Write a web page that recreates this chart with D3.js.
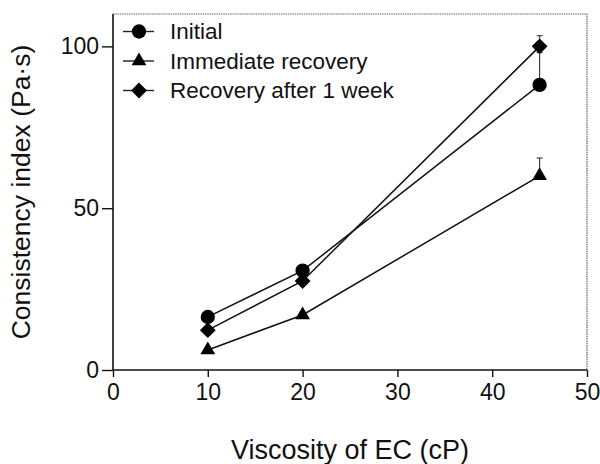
<!DOCTYPE html>
<html>
<head>
<meta charset="utf-8">
<script src="https://cdn.jsdelivr.net/npm/d3@7"></script>
<style>
  body { margin: 0; background: #fff; }
  text { font-family: "Liberation Sans", Arial, sans-serif; fill: #111; }
</style>
</head>
<body>
<div id="chart"></div>
<script>
// data
var viscosity = [10, 20, 45];
var seriesNames = ["Initial", "Immediate recovery", "Recovery after 1 week"];
var initial = [16.4, 30.7, 88.1];
var initialErr = [0, 0, 10];
var immediate = [6.2, 17.0, 60.0];
var immediateErr = [0, 0, 5.5];
var week = [12.3, 27.5, 100.0];
var weekErr = [0, 0, 3.3];
var xTicks = [0, 10, 20, 30, 40, 50];
var yTicks = [0, 50, 100];

var series = [
  {name: seriesNames[0], values: initial, err: initialErr, shape: "circle"},
  {name: seriesNames[1], values: immediate, err: immediateErr, shape: "triangle"},
  {name: seriesNames[2], values: week, err: weekErr, shape: "diamond"}
];

var W = 600, H = 464;
var margin = {top: 14, right: 13, bottom: 94, left: 113};
var width = W - margin.left - margin.right;
var height = H - margin.top - margin.bottom;

var svg = d3.select("#chart").append("svg")
    .attr("width", W)
    .attr("height", H);
var g = svg.append("g")
    .attr("transform", "translate(" + margin.left + "," + margin.top + ")");

var x = d3.scaleLinear().domain([0, 50]).range([0, width]);
var y = d3.scaleLinear().domain([0, 110]).range([height, 0]);

// frame on top and right
g.append("path")
    .attr("d", "M0,0H" + width + "V" + height)
    .attr("fill", "none")
    .attr("stroke", "#666")
    .attr("stroke-width", 1.2)
    .attr("stroke-dasharray", "1.5,0.8");

var xAxis = g.append("g")
    .attr("transform", "translate(0," + height + ")")
    .call(d3.axisBottom(x).tickValues(xTicks).tickSize(7).tickPadding(7).tickSizeOuter(0));
var yAxis = g.append("g")
    .call(d3.axisLeft(y).tickValues(yTicks).tickSize(11).tickPadding(3).tickSizeOuter(0));

[xAxis, yAxis].forEach(function(a) {
  a.select(".domain").attr("stroke", "#111").attr("stroke-width", 1.6);
  a.selectAll(".tick line").attr("stroke", "#111").attr("stroke-width", 1.4);
  a.selectAll(".tick text")
    .style("font-family", "'Liberation Sans', Arial, sans-serif")
    .style("font-size", "23px")
    .attr("fill", "#111");
});
xAxis.select(".domain").attr("d", "M0,0H" + width);
yAxis.select(".domain").attr("d", "M0," + height + "V0");

// axis titles
svg.append("text")
    .attr("x", margin.left + width / 2)
    .attr("y", 459)
    .attr("text-anchor", "middle")
    .style("font-size", "27px")
    .text("Viscosity of EC (cP)");
svg.append("text")
    .attr("transform", "translate(30," + (margin.top + height / 2) + ") rotate(-90)")
    .attr("text-anchor", "middle")
    .style("font-size", "26.5px")
    .text("Consistency index (Pa\u00b7s)");

function symbolPath(shape) {
  if (shape == "circle") return d3.symbol(d3.symbolCircle, 160)();
  if (shape == "triangle") return d3.symbol(d3.symbolTriangle, 95)();
  return d3.symbol(d3.symbolSquare, 125)();
}
function symbolRot(shape) { return shape == "diamond" ? " rotate(45)" : ""; }

var line = d3.line()
    .x(function(d, i) { return x(viscosity[i]); })
    .y(function(d) { return y(d); });

// error bars (upper only)
series.forEach(function(s) {
  s.err.forEach(function(e, i) {
    if (!e) return;
    var cx = x(viscosity[i]), top = y(s.values[i] + e);
    g.append("line")
      .attr("x1", cx).attr("x2", cx)
      .attr("y1", y(s.values[i])).attr("y2", top)
      .attr("stroke", "#444").attr("stroke-width", 1.2);
    g.append("line")
      .attr("x1", cx - 3).attr("x2", cx + 3)
      .attr("y1", top).attr("y2", top)
      .attr("stroke", "#444").attr("stroke-width", 1.2);
  });
});

series.forEach(function(s) {
  g.append("path")
    .datum(s.values)
    .attr("fill", "none")
    .attr("stroke", "#111")
    .attr("stroke-width", 1.5)
    .attr("d", line);
  g.selectAll(null)
    .data(s.values)
    .enter().append("path")
      .attr("transform", function(d, i) {
        return "translate(" + x(viscosity[i]) + "," + y(d) + ")" + symbolRot(s.shape);
      })
      .attr("d", symbolPath(s.shape))
      .attr("fill", "#000");
});

// legend
var legend = svg.append("g");
series.forEach(function(s, i) {
  var cy = 31.5 + i * 29.5;
  legend.append("line")
    .attr("x1", 123).attr("x2", 154)
    .attr("y1", cy).attr("y2", cy)
    .attr("stroke", "#222").attr("stroke-width", 1.4);
  legend.append("path")
    .attr("transform", "translate(139," + cy + ")" + symbolRot(s.shape))
    .attr("d", symbolPath(s.shape))
    .attr("fill", "#000");
  legend.append("text")
    .attr("x", 170)
    .attr("y", cy + 7.5)
    .style("font-size", "22.5px")
    .text(s.name);
});
</script>
</body>
</html>
